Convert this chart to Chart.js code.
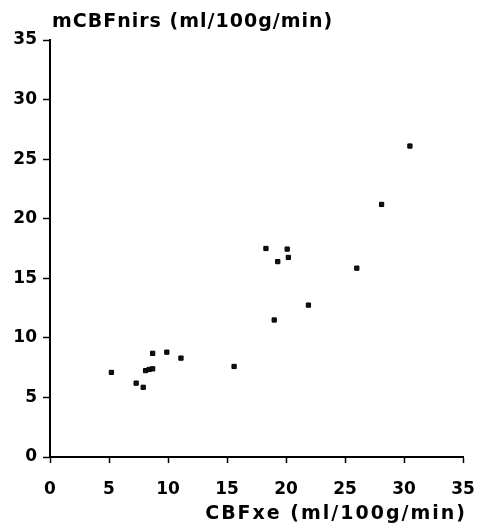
<!DOCTYPE html>
<html><head><meta charset="utf-8">
<script src="https://cdn.jsdelivr.net/npm/chart.js@4.4.1/dist/chart.umd.min.js"></script>
<style>html,body{margin:0;padding:0;background:#fff}#wrap{width:478px;height:523px}</style>
</head><body><div id="wrap"><canvas id="c" width="478" height="523"></canvas></div>
<script>
const cbfXe   = [5.2, 7.3, 7.9, 8.1, 8.4, 8.7, 8.7, 9.9, 11.1, 15.6, 18.3, 19.0, 19.3, 20.1, 20.2, 21.9, 26.0, 28.1, 30.5];
const cbfNirs = [7.1, 6.2, 5.85, 7.25, 7.35, 7.4, 8.7, 8.8, 8.3, 7.6, 17.5, 11.5, 16.4, 17.45, 16.75, 12.75, 15.85, 21.2, 26.1];
const tickValues = [0, 5, 10, 15, 20, 25, 30, 35];
const yTitle = 'mCBFnirs (ml/100g/min)';
const xTitle = 'CBFxe (ml/100g/min)';

const FONT = 'DejaVu Sans, sans-serif';
const pts = cbfXe.map((x, i) => ({x, y: cbfNirs[i]}));

const titlePlugin = {
  id: 'axisTitles',
  afterDraw(chart) {
    const ctx = chart.ctx, a = chart.chartArea;
    ctx.save();
    ctx.fillStyle = '#000';
    ctx.font = 'bold 19px ' + FONT;
    ctx.textBaseline = 'alphabetic';
    ctx.letterSpacing = '1px';
    ctx.textAlign = 'left';
    ctx.fillText(yTitle, a.left + 2, 27);
    ctx.letterSpacing = '2px';
    ctx.textAlign = 'right';
    ctx.fillText(xTitle, a.right + 4, 519);
    ctx.restore();
  }
};

new Chart(document.getElementById('c'), {
  type: 'scatter',
  data: { datasets: [{ data: pts, pointStyle: 'rect', radius: 3, backgroundColor: '#111', borderColor: '#000', borderWidth: 1 }] },
  options: {
    responsive: false, animation: false, devicePixelRatio: 1,
    layout: { padding: { left: 0, right: 15, top: 40, bottom: 0 } },
    plugins: { legend: { display: false }, tooltip: { enabled: false }, title: { display: false } },
    scales: {
      x: {
        type: 'linear', min: 0, max: 35,
        afterBuildTicks: s => { s.ticks = tickValues.map(v => ({value: v})); },
        afterFit: s => { s.height = 66; s.paddingLeft = 0; s.paddingRight = 0; },
        border: { color: '#000', width: 2 },
        grid: { drawOnChartArea: false, drawTicks: true, tickLength: 6, tickColor: '#000', tickWidth: 1.5 },
        ticks: { color: '#000', padding: 16, maxRotation: 0, font: { family: FONT, size: 17, weight: 'bold' } }
      },
      y: {
        type: 'linear', min: 0, max: 35,
        afterBuildTicks: s => { s.ticks = tickValues.map(v => ({value: v})); },
        afterFit: s => { s.width = 50; s.paddingTop = 0; s.paddingBottom = 0; },
        border: { color: '#000', width: 2 },
        grid: { drawOnChartArea: false, drawTicks: true, tickLength: 7, tickColor: '#000', tickWidth: 1.5 },
        ticks: { color: '#000', padding: 6, font: { family: FONT, size: 17, weight: 'bold' } }
      }
    }
  },
  plugins: [titlePlugin]
});
</script></body></html>
